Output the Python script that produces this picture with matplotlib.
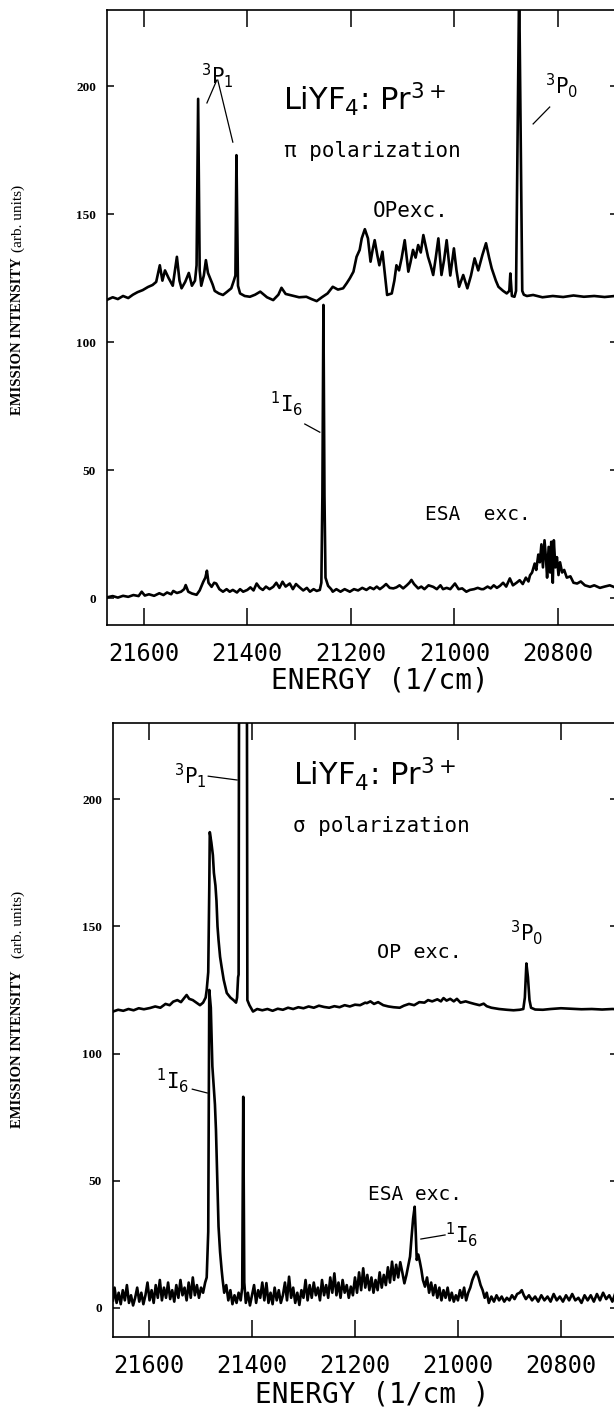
import numpy as np
import matplotlib.pyplot as plt

plt.rcParams['font.family'] = ['DejaVu Sans Mono', 'DejaVu Sans']
plt.rcParams['mathtext.fontset'] = 'dejavusans'

# ---- pi polarization, OP excitation (offset trace) ----
pi_op_e = [21671, 21660, 21650, 21640, 21630, 21621, 21612, 21602, 21592, 21583,
           21576, 21569, 21564, 21559, 21552, 21544, 21536, 21531, 21527, 21520,
           21513, 21507, 21501, 21498, 21495, 21492, 21489, 21484, 21480, 21476,
           21472, 21467, 21463, 21455, 21447, 21440, 21431, 21426, 21423, 21421,
           21418, 21414, 21405, 21395, 21385, 21375, 21362, 21350, 21340, 21334,
           21326, 21318, 21300, 21286, 21276, 21266, 21256, 21245, 21235, 21225,
           21215, 21208, 21202, 21195, 21189, 21183, 21179, 21173, 21167, 21162,
           21158, 21154, 21149, 21145, 21139, 21134, 21130, 21121, 21116, 21112,
           21107, 21102, 21096, 21089, 21085, 21080, 21075, 21070, 21065, 21060,
           21055, 21051, 21046, 21041, 21036, 21031, 21025, 21020, 21015, 21008,
           21001, 20996, 20991, 20983, 20975, 20968, 20961, 20954, 20946, 20939,
           20933, 20928, 20920, 20915, 20906, 20899, 20894, 20892, 20889, 20884,
           20881, 20875, 20869, 20866, 20860, 20848, 20830, 20810, 20790, 20770,
           20750, 20730, 20710, 20690]
pi_op_i = [116.5, 117.5, 116.8, 118.0, 117.2, 118.5, 119.5, 120.3, 121.5, 122.3,
           123.5, 130.0, 124.0, 128.0, 125.0, 122.0, 133.3, 124.0, 121.0, 123.5,
           127.0, 122.0, 124.0, 130.0, 195.0, 128.0, 122.0, 126.0, 132.0, 127.0,
           125.0, 122.5, 120.0, 119.0, 118.4, 119.5, 121.0, 124.0, 126.0, 173.0,
           122.0, 119.0, 118.0, 117.7, 118.5, 119.7, 117.5, 116.4, 118.5, 121.2,
           118.8, 118.4, 117.5, 117.7, 116.8, 116.0, 117.5, 119.0, 121.6, 120.5,
           121.0, 123.0, 124.9, 127.5, 133.3, 136.0, 140.5, 144.1, 140.5, 131.4,
           136.0, 139.8, 134.0, 130.0, 135.3, 126.0, 118.4, 119.0, 124.0, 130.0,
           128.0, 132.7, 139.8, 127.5, 131.0, 136.0, 133.0, 137.9, 135.0, 141.8,
           137.0, 133.3, 130.0, 126.2, 133.0, 140.5, 126.2, 132.0, 139.8, 126.0,
           136.6, 128.0, 121.6, 126.2, 121.0, 126.0, 132.7, 128.0, 134.0, 138.6,
           133.0, 128.8, 124.0, 121.6, 120.0, 119.0, 120.0, 126.8, 118.0, 117.7,
           120.0, 240.0, 120.0, 118.5, 118.0, 118.4, 117.5, 118.0, 117.6, 118.2,
           117.7, 118.0, 117.6, 118.0]

# ---- pi polarization, ESA excitation ----
pi_esa_e = [21671, 21660, 21650, 21640, 21630, 21620, 21610, 21604, 21598, 21590,
            21580, 21570, 21562, 21555, 21547, 21543, 21536, 21528, 21522, 21519,
            21514, 21507, 21498, 21492, 21485, 21481, 21478, 21475, 21469, 21464,
            21460, 21454, 21447, 21440, 21434, 21428, 21420, 21414, 21408, 21400,
            21394, 21388, 21382, 21376, 21370, 21364, 21357, 21350, 21344, 21338,
            21332, 21326, 21318, 21312, 21306, 21299, 21292, 21285, 21279, 21272,
            21266, 21260, 21257, 21255, 21253, 21251, 21249, 21244, 21238, 21235,
            21228, 21220, 21212, 21202, 21194, 21186, 21178, 21170, 21163, 21156,
            21150, 21144, 21138, 21132, 21125, 21118, 21112, 21106, 21099, 21092,
            21087, 21083, 21078, 21070, 21064, 21058, 21050, 21041, 21034, 21027,
            21022, 21015, 21008, 20999, 20992, 20985, 20977, 20970, 20962, 20955,
            20948, 20944, 20936, 20930, 20924, 20918, 20912, 20906, 20900, 20893,
            20887, 20880, 20874, 20868, 20862, 20857, 20854, 20850, 20845, 20842,
            20838, 20835, 20832, 20829, 20826, 20823, 20821, 20818, 20815, 20813,
            20810, 20808, 20805, 20802, 20799, 20796, 20792, 20788, 20783, 20776,
            20770, 20763, 20756, 20748, 20738, 20730, 20719, 20710, 20700, 20690]
pi_esa_i = [0.3, 0.8, 0.2, 0.9, 0.5, 1.2, 0.8, 2.5, 1.0, 1.5,
            0.9, 1.9, 1.2, 2.2, 1.5, 2.8, 2.0, 2.5, 3.5, 5.1,
            2.5, 1.8, 1.3, 3.0, 6.4, 8.0, 10.7, 6.0, 4.4, 6.0,
            5.7, 3.5, 2.5, 3.5, 2.5, 3.2, 2.2, 3.5, 2.5, 3.2,
            4.2, 3.0, 5.7, 4.0, 3.2, 4.5, 3.5, 4.4, 6.0, 4.0,
            6.4, 4.5, 5.7, 3.5, 5.5, 4.2, 3.0, 4.0, 2.5, 3.5,
            2.8, 3.2, 6.0, 40.0, 114.5, 40.0, 8.0, 4.8, 3.5, 2.5,
            3.5, 2.5, 3.5, 2.5, 3.5, 3.0, 4.0, 3.2, 4.2, 3.5,
            4.5, 3.5, 4.4, 5.5, 4.0, 3.8, 4.2, 5.0, 3.8, 5.0,
            6.0, 7.1, 5.5, 3.8, 4.5, 3.5, 5.0, 4.4, 3.5, 5.0,
            3.5, 4.0, 3.5, 5.7, 3.5, 3.8, 2.5, 3.2, 3.5, 4.0,
            3.5, 3.5, 4.5, 3.8, 5.0, 4.0, 4.8, 6.0, 4.5, 7.7,
            5.0, 6.0, 7.0, 5.5, 8.0, 6.5, 8.9, 10.0, 13.5, 11.0,
            17.0, 14.0, 21.0, 12.0, 22.6, 15.0, 8.0, 20.0, 10.0, 22.0,
            6.0, 22.6, 12.0, 16.0, 9.0, 14.0, 10.0, 11.0, 8.0, 8.5,
            6.0, 5.7, 6.5, 5.0, 4.4, 5.0, 4.0, 4.5, 5.0, 4.2]

# ---- sigma polarization, OP excitation (offset trace) ----
sg_op_e = [21670, 21660, 21650, 21640, 21630, 21620, 21610, 21598, 21588, 21578,
           21568, 21560, 21553, 21545, 21538, 21531, 21527, 21522, 21515, 21508,
           21501, 21495, 21490, 21488, 21485, 21483, 21482, 21479, 21476, 21474,
           21471, 21469, 21467, 21465, 21462, 21459, 21455, 21449, 21442, 21436,
           21431, 21429, 21427, 21426, 21424, 21411, 21409, 21405, 21398, 21390,
           21380, 21370, 21360, 21350, 21340, 21330, 21320, 21310, 21300, 21290,
           21280, 21270, 21260, 21250, 21240, 21230, 21220, 21210, 21200, 21190,
           21180, 21177, 21170, 21163, 21155, 21145, 21135, 21125, 21113, 21105,
           21095, 21085, 21075, 21065, 21058, 21050, 21040, 21033, 21028, 21022,
           21015, 21008, 21002, 20995, 20985, 20977, 20968, 20958, 20950, 20944,
           20935, 20920, 20905, 20892, 20880, 20873, 20870, 20867, 20864, 20861,
           20858, 20850, 20835, 20820, 20800, 20780, 20760, 20740, 20720, 20700,
           20690]
sg_op_i = [116.5, 117.2, 116.8, 117.5, 117.0, 117.8, 117.4, 117.9, 118.5, 118.0,
           119.5, 119.0, 120.4, 121.0, 120.2, 122.0, 123.0, 121.5, 121.0, 120.0,
           119.0, 120.0, 122.0, 125.0, 132.0, 165.0, 187.0, 183.0, 178.0, 171.0,
           166.0, 160.0, 150.0, 144.6, 138.0, 134.0, 129.0, 123.8, 122.0, 121.0,
           120.0, 122.0, 130.0, 131.0, 400.0, 400.0, 121.0, 119.0, 116.5, 117.5,
           117.0, 117.5, 116.8, 117.6, 117.2, 118.0, 117.5, 118.2, 117.8, 118.5,
           118.0, 118.8, 118.3, 118.0, 118.6, 118.2, 119.0, 118.5, 119.2, 119.0,
           120.0, 119.8, 120.5, 119.5, 120.2, 119.0, 118.5, 118.2, 118.0, 118.8,
           119.5, 119.0, 120.2, 120.0, 121.0, 120.5, 121.3, 120.5, 121.8, 120.8,
           121.5, 120.5, 121.5, 120.0, 120.5, 120.0, 119.5, 119.0, 119.6, 118.6,
           118.0, 117.5, 117.2, 117.0, 117.2, 117.5, 122.0, 135.4, 130.0, 121.0,
           118.0, 117.3, 117.2, 117.5, 117.8, 117.6, 117.4, 117.5, 117.3, 117.5,
           117.4]

# ---- sigma polarization, ESA excitation ----
sg_esa_e = [21670, 21667, 21663, 21659, 21655, 21651, 21647, 21643, 21639, 21635,
            21631, 21627, 21623, 21619, 21615, 21611, 21607, 21603, 21599, 21595,
            21591, 21587, 21583, 21579, 21575, 21571, 21567, 21563, 21559, 21555,
            21551, 21547, 21543, 21539, 21535, 21531, 21527, 21523, 21519, 21515,
            21511, 21507, 21503, 21499, 21495, 21491, 21488, 21485, 21483, 21480,
            21477, 21475, 21472, 21470, 21468, 21466, 21465, 21462, 21459, 21457,
            21454, 21450, 21446, 21442, 21438, 21434, 21430, 21426, 21422, 21419,
            21417, 21415, 21412, 21408, 21404, 21400, 21396, 21392, 21388, 21384,
            21380, 21376, 21372, 21368, 21364, 21360, 21356, 21352, 21348, 21344,
            21340, 21336, 21332, 21328, 21324, 21320, 21316, 21312, 21308, 21304,
            21300, 21296, 21292, 21288, 21284, 21280, 21276, 21272, 21268, 21264,
            21260, 21256, 21252, 21248, 21244, 21240, 21236, 21232, 21228, 21224,
            21220, 21216, 21212, 21208, 21204, 21200, 21196, 21192, 21188, 21184,
            21180, 21176, 21172, 21168, 21164, 21160, 21156, 21152, 21148, 21144,
            21140, 21136, 21132, 21128, 21124, 21120, 21116, 21112, 21108, 21104,
            21100, 21096, 21093, 21090, 21087, 21084, 21082, 21080, 21077, 21074,
            21071, 21068, 21064, 21060, 21056, 21052, 21048, 21044, 21040, 21036,
            21032, 21028, 21024, 21020, 21016, 21012, 21008, 21004, 21000, 20996,
            20992, 20988, 20984, 20980, 20976, 20972, 20968, 20964, 20960, 20956,
            20952, 20948, 20944, 20940, 20935, 20930, 20925, 20920, 20915, 20910,
            20905, 20900, 20895, 20890, 20885, 20880, 20876, 20872, 20868, 20862,
            20856, 20850, 20844, 20838, 20832, 20826, 20820, 20814, 20808, 20802,
            20796, 20790, 20784, 20778, 20772, 20766, 20760, 20754, 20748, 20742,
            20736, 20730, 20724, 20718, 20712, 20706, 20700, 20694, 20690]
sg_esa_i = [3, 8, 2, 6, 1.5, 7, 3, 9, 2, 5,
            1, 4, 8, 2.5, 6, 1.5, 5, 10, 3, 7,
            2, 9, 4, 11, 3, 8, 4, 10, 3.5, 7,
            2.5, 9, 4, 11, 5, 8, 3, 10, 4, 12,
            5, 9, 4, 8, 6, 10, 12, 30, 125, 118,
            95, 89, 80, 70, 55, 40, 32, 22, 15, 11,
            6, 9, 3, 7, 1.5, 5, 2, 6, 3, 8,
            83, 10, 2, 6, 1, 5, 9, 2, 7, 4,
            10, 3, 9.8, 2, 6, 1.5, 8, 3, 7, 2,
            5, 10, 3, 12.3, 4, 8, 2, 6, 1.2, 7,
            4, 11, 3, 9, 4, 10, 5, 8, 3, 11,
            5, 9, 4, 12, 6, 13.6, 5, 10, 4, 11,
            6, 9, 4, 8.4, 5, 12, 6, 14, 7, 15.6,
            8, 13, 7, 12, 6, 11, 7, 14, 8, 13,
            9, 16, 10, 18.2, 11, 17, 12, 18, 14, 9.7,
            13, 17, 20.2, 28, 35.2, 39.8, 30, 18.9, 21, 18.2,
            15, 11, 8.4, 12, 6, 10, 5, 9, 4, 8,
            3, 7, 4, 8, 3, 6, 2.5, 5, 3, 7,
            4, 8, 3, 6, 8, 11, 13, 14.3, 12, 9,
            7, 4, 6, 2, 4.5, 2.5, 5, 3, 4.5, 2.5,
            4, 3, 5, 3.5, 5.5, 6, 7, 5, 3.5, 5,
            3, 4.5, 2.5, 5, 3, 4.5, 2.5, 5.5, 3, 4.5,
            2.5, 5, 3, 5.5, 3, 4, 2, 5, 3, 5,
            2.5, 5.5, 3, 6, 3.5, 5, 2.5, 6, 4]

x_ticks = [21600, 21400, 21200, 21000, 20800]
y_ticks = [0, 50, 100, 150, 200]

fig = plt.figure(figsize=(6.14, 14.1), dpi=100)
W, H = 614.0, 1410.0
TRACE_LW = 1.9


def setup(ax, xlim, ylim):
    ax.set_xlim(*xlim)
    ax.set_ylim(*ylim)
    ax.set_xticks(x_ticks)
    ax.set_yticks(y_ticks)
    ax.tick_params(axis='x', direction='in', top=True, length=12, width=1.1,
                   pad=12, labelsize=17)
    ax.tick_params(axis='y', direction='in', right=True, length=5, width=1.1,
                   pad=8)
    for lab in ax.get_yticklabels():
        lab.set_fontfamily('Liberation Serif')
        lab.set_fontweight('bold')
        lab.set_fontsize(9.5)
    for s in ax.spines.values():
        s.set_linewidth(1.2)


def ylabel(bottom_caps, bottom_units):
    fig.text(18 / W, 1 - bottom_caps / H, 'EMISSION INTENSITY', rotation=90,
             ha='center', va='bottom', family='Liberation Serif',
             fontweight='bold', fontsize=10.5)
    fig.text(18 / W, 1 - bottom_units / H, '(arb. units)', rotation=90,
             ha='center', va='bottom', family='Liberation Serif', fontsize=11)


def mark(ax, xs, ys):
    ax.plot(xs, ys, color='k', lw=0.9)


# top panel: pi polarization
ax1 = fig.add_axes([107 / W, 1 - 625 / H, 510 / W, 615 / H])
setup(ax1, (21671, 20686), (-10.5, 229.7))
ax1.plot(pi_op_e, pi_op_i, color='k', lw=TRACE_LW)
ax1.plot(pi_esa_e, pi_esa_i, color='k', lw=TRACE_LW)
ax1.text(21457, 204, r'$^{3}$P$_{1}$', ha='center', va='center', fontsize=15)
mark(ax1, [21459, 21478], [202.3, 193.4])
mark(ax1, [21457, 21428], [202.3, 178.1])
ax1.text(21331, 190.6, r'LiYF$_{4}$: Pr$^{3+}$', family='DejaVu Sans',
         ha='left', va='baseline', fontsize=22)
ax1.text(21329, 172.3, 'π polarization', ha='left', va='baseline', fontsize=15)
ax1.text(21084, 148.8, 'OPexc.', ha='center', va='baseline', fontsize=15)
ax1.text(20792, 200, r'$^{3}$P$_{0}$', ha='center', va='center', fontsize=15)
mark(ax1, [20816, 20848], [191.8, 185.2])
ax1.text(21324, 75.8, r'$^{1}$I$_{6}$', ha='center', va='center', fontsize=15)
mark(ax1, [21289, 21260], [68.0, 64.8])
ax1.text(20955, 30.5, 'ESA  exc.', ha='center', va='baseline', fontsize=14)
fig.text(380 / W, 1 - 681 / H, 'ENERGY (1/cm)', ha='center', va='center',
         fontsize=20)
ylabel(415, 252)

# bottom panel: sigma polarization
ax2 = fig.add_axes([113 / W, 1 - 1337 / H, 504 / W, 614 / H])
setup(ax2, (21670, 20691), (-11.4, 229.9))
ax2.plot(sg_op_e, sg_op_i, color='k', lw=TRACE_LW)
ax2.plot(sg_esa_e, sg_esa_i, color='k', lw=TRACE_LW)
ax2.text(21520, 209.4, r'$^{3}$P$_{1}$', ha='center', va='center', fontsize=15)
mark(ax2, [21485, 21429], [209.0, 207.5])
ax2.text(21320, 205.5, r'LiYF$_{4}$: Pr$^{3+}$', family='DejaVu Sans',
         ha='left', va='baseline', fontsize=22)
ax2.text(21320, 187.2, 'σ polarization', ha='left', va='baseline', fontsize=15)
ax2.text(21074, 137.5, 'OP exc.', ha='center', va='baseline', fontsize=14.5)
ax2.text(20866, 147.7, r'$^{3}$P$_{0}$', ha='center', va='center', fontsize=15)
ax2.text(21555, 89.2, r'$^{1}$I$_{6}$', ha='center', va='center', fontsize=15)
mark(ax2, [21516, 21487], [86.0, 84.5])
ax2.text(21083, 42.4, 'ESA exc.', ha='center', va='baseline', fontsize=14)
ax2.text(20992, 28.7, r'$^{1}$I$_{6}$', ha='center', va='center', fontsize=15)
mark(ax2, [21072, 21025], [27.1, 28.7])
fig.text(372 / W, 1 - 1394 / H, 'ENERGY (1/cm )', ha='center', va='center',
         fontsize=20)
ylabel(1128, 958)

fig.savefig('out.png', dpi=100)
